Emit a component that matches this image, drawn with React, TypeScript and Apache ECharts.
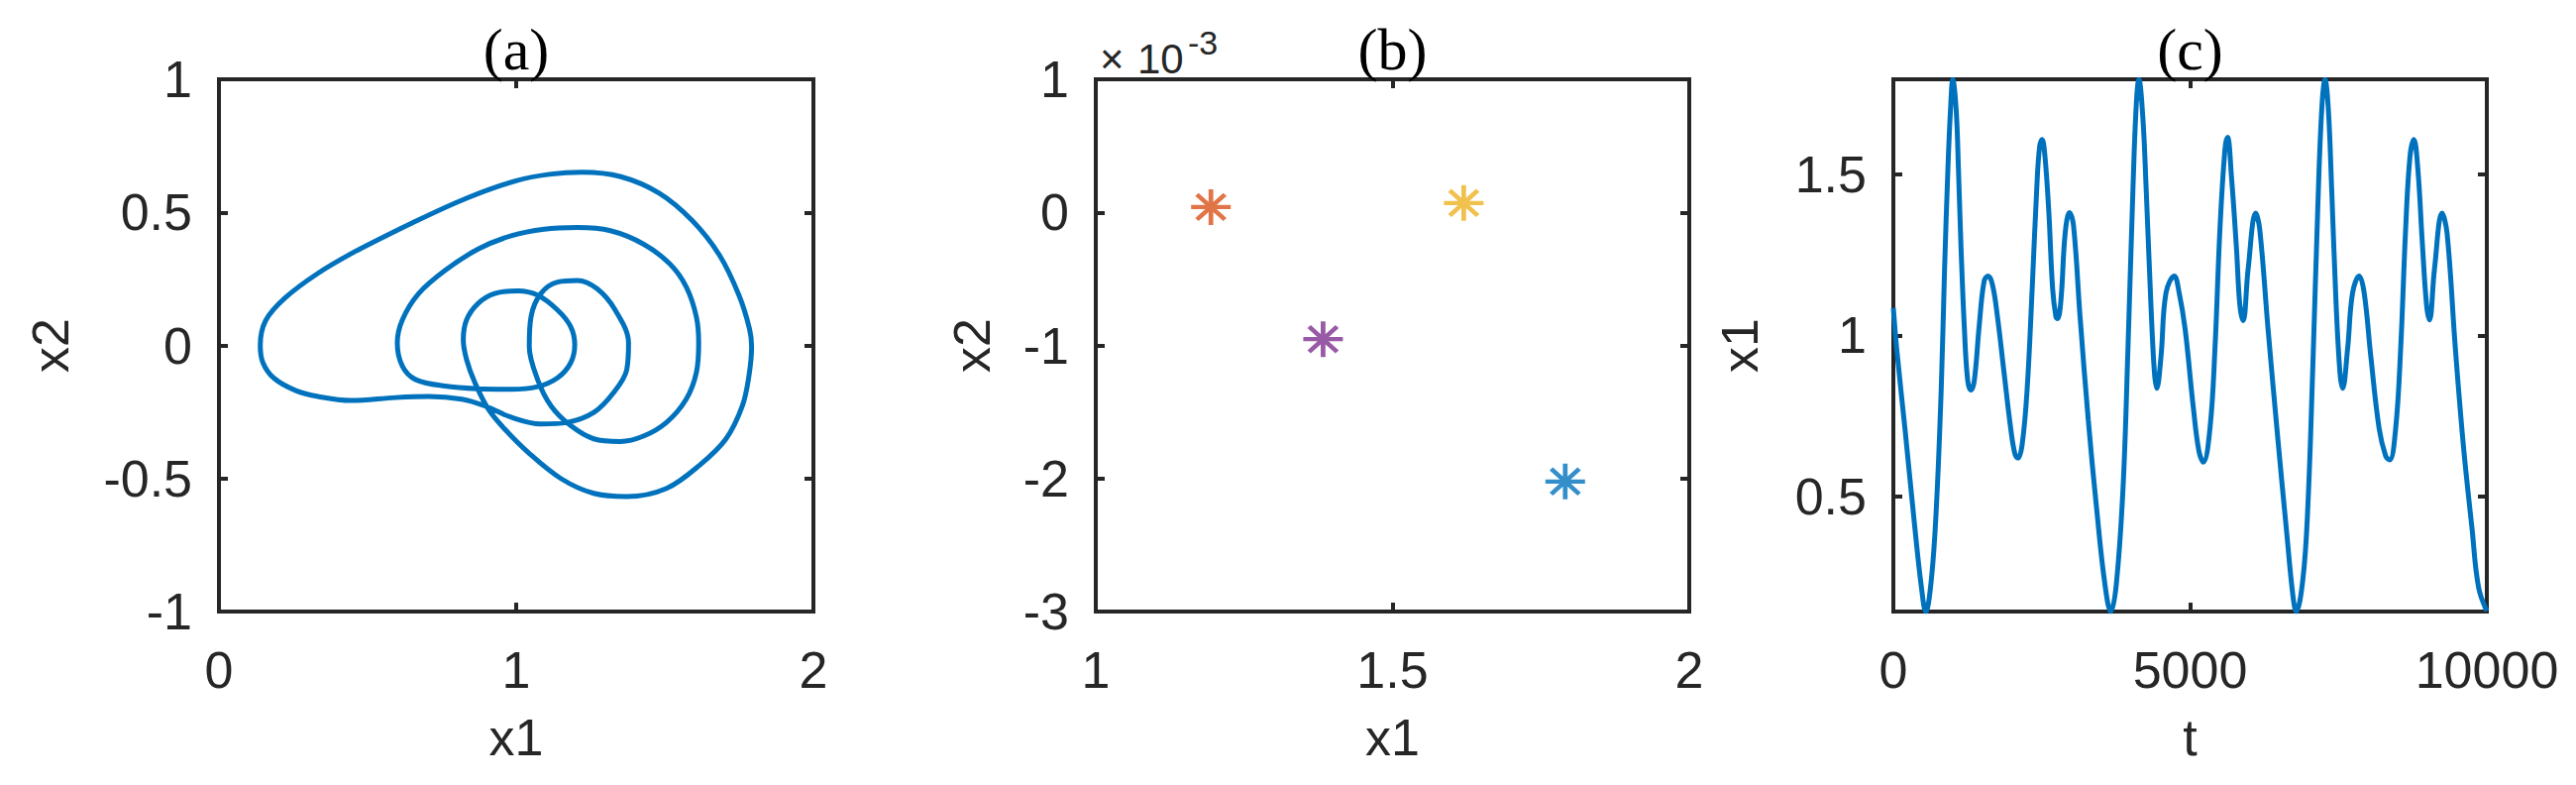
import React, { useEffect, useRef } from 'react';
import * as echarts from 'echarts';

// ---------- Panel (a): phase portrait x1 vs x2 (one closed orbit) ----------
const phaseX1 = [
  0.463, 0.648, 0.833, 1.0, 1.111, 1.222, 1.352, 1.481, 1.593, 1.685, 1.75, 1.785,
  1.792, 1.783, 1.761, 1.706, 1.617, 1.506, 1.372, 1.261, 1.15, 1.039, 0.961, 0.906, 0.861, 0.833, 0.822,
  0.833, 0.872, 0.928, 1.006, 1.072, 1.139, 1.183, 1.197, 1.183, 1.139, 1.072, 0.983, 0.872, 0.761, 0.661,
  0.617, 0.6, 0.617, 0.672, 0.761, 0.872, 0.983, 1.094, 1.206, 1.317, 1.428, 1.517, 1.572, 1.606, 1.614,
  1.606, 1.572, 1.506, 1.428, 1.35, 1.261, 1.183, 1.117, 1.072, 1.044, 1.05, 1.083, 1.139, 1.206, 1.272,
  1.333, 1.378, 1.372, 1.328, 1.261, 1.172, 1.083, 0.983, 0.894, 0.817, 0.706, 0.594, 0.444, 0.333, 0.259,
  0.185, 0.148, 0.139, 0.157, 0.222, 0.333, 0.463,
];
const phaseX2 = [
  0.356, 0.459, 0.553, 0.619, 0.643, 0.651, 0.634, 0.572, 0.468, 0.337, 0.187, 0.062,
  -0.004, -0.115, -0.227, -0.351, -0.45, -0.537, -0.568, -0.556, -0.5, -0.401, -0.314, -0.239, -0.14, -0.053, 0.021,
  0.096, 0.158, 0.195, 0.205, 0.189, 0.133, 0.071, 0.002, -0.066, -0.122, -0.155, -0.165, -0.163, -0.153, -0.128,
  -0.078, 0.009, 0.096, 0.195, 0.282, 0.362, 0.412, 0.437, 0.443, 0.431, 0.381, 0.306, 0.22, 0.108, 0.009,
  -0.103, -0.202, -0.289, -0.341, -0.361, -0.351, -0.301, -0.227, -0.128, -0.004, 0.108, 0.195, 0.238, 0.244, 0.213,
  0.133, 0.009, -0.091, -0.177, -0.252, -0.289, -0.295, -0.27, -0.227, -0.202, -0.192, -0.196, -0.207, -0.192, -0.17,
  -0.123, -0.065, 0.0, 0.093, 0.178, 0.271, 0.356,
];

// ---------- Panel (b): section points (x2 in units of 1e-3) ----------
const pointX1 = [1.194, 1.383, 1.62, 1.791];
const pointX2e3 = [0.04, -0.953, 0.07, -2.023];
const pointColors = ['#D95319', '#7E2F8E', '#EDB120', '#0072BD'];

// ---------- Panel (c): time series ----------
const timeT = [
  0, 56, 195, 362, 473, 546, 640, 724, 807, 863, 919, 963, 1002, 1058, 1097, 1141, 1197, 1253, 1308,
  1364, 1448, 1531, 1598, 1670, 1754, 1865, 1977, 2049, 2099, 2171, 2255, 2339, 2422, 2467, 2506,
  2550, 2617, 2684, 2739, 2767, 2823, 2895, 2968, 3035, 3146, 3285, 3424, 3563, 3664,
  3758, 3870, 3953, 4037, 4092, 4137, 4204, 4260, 4343, 4399, 4438, 4510, 4594, 4733, 4816,
  4916, 5056, 5150, 5223, 5335, 5419, 5503, 5587, 5631, 5698, 5782, 5838, 5894, 5978, 6106, 6173,
  6313, 6481, 6620, 6732, 6788, 6900, 6983, 7067, 7151, 7218, 7274, 7330, 7386, 7458, 7525, 7570,
  7654, 7738, 7849, 7933, 8045, 8185, 8296, 8363, 8464, 8548, 8632, 8704, 8771, 8838, 8911, 8984, 9034,
  9118, 9246, 9330, 9470, 9609, 9749, 9861, 10000,
];
const timeX1 = [
  1.085, 0.959, 0.712, 0.404, 0.219, 0.144, 0.243, 0.465, 0.836, 1.206, 1.515, 1.70, 1.793, 1.70, 1.515, 1.268, 1.021, 0.86, 0.83,
  0.86, 1.033, 1.17, 1.184, 1.157, 1.058, 0.885, 0.712, 0.632, 0.62, 0.663, 0.836, 1.144, 1.478, 1.589, 1.607,
  1.564, 1.391, 1.144, 1.058, 1.052, 1.107, 1.317, 1.381, 1.342, 1.058, 0.737, 0.465, 0.231, 0.144,
  0.231, 0.527, 0.959, 1.453, 1.712, 1.793, 1.675, 1.453, 1.083, 0.885, 0.836, 0.935, 1.132, 1.184, 1.132,
  1.02, 0.774, 0.64, 0.607, 0.712, 0.959, 1.33, 1.577, 1.614, 1.49, 1.268, 1.095, 1.046, 1.206, 1.379, 1.33,
  1.021, 0.675, 0.404, 0.194, 0.144, 0.243, 0.465, 0.898, 1.392, 1.70, 1.793, 1.70, 1.453, 1.107, 0.885, 0.836,
  0.959, 1.132, 1.184, 1.132, 0.935, 0.712, 0.626, 0.614, 0.712, 0.959, 1.33, 1.552, 1.607, 1.515, 1.293, 1.095, 1.048,
  1.206, 1.379, 1.317, 0.959, 0.65, 0.404, 0.219, 0.146,
];

const panelTitles = ['(a)', '(b)', '(c)'];
const xNames = ['x1', 'x1', 't'];
const yNames = ['x2', 'x2', 'x1'];
const cTickValues = [0.5, 1, 1.5];

const GRIDS = [
  { left: 221, top: 80, width: 600, height: 537 },
  { left: 1106, top: 80, width: 599, height: 537 },
  { left: 1911, top: 80, width: 599, height: 537 },
];
const Y_NAME_GAPS = [144, 99, 129];

const AXIS_COLOR = '#262626';
const SANS = '"Liberation Sans", Arial, Helvetica, sans-serif';
const SERIF = '"Liberation Serif", "Times New Roman", serif';
const LINE_BLUE = '#0072BD';

const ASTERISK =
  'path://M10 0 L10 20 M0 10 L20 10 M2.93 2.93 L17.07 17.07 M2.93 17.07 L17.07 2.93';

function App() {
  const ref = useRef<HTMLDivElement>(null);

  useEffect(() => {
    if (!ref.current) return;
    const chart = echarts.init(ref.current, undefined, { renderer: 'svg' });

    const ranges = [
      { xmin: 0, xmax: 2, xint: 1, ymin: -1, ymax: 1, yint: 0.5 },
      { xmin: 1, xmax: 2, xint: 0.5, ymin: -3, ymax: 1, yint: 1 },
      { xmin: 0, xmax: 10000, xint: 5000, ymin: 0.144, ymax: 1.794, yint: 0 },
    ];

    const tick = { show: true, inside: true, length: 9, lineStyle: { color: AXIS_COLOR, width: 4 } };
    const hiddenLine = { show: false, onZero: false };
    const labelStyle = { fontFamily: SANS, fontSize: 52, color: AXIS_COLOR };
    const nameStyle = { fontFamily: SANS, fontSize: 52, color: AXIS_COLOR };

    const xAxis: any[] = [];
    const yAxis: any[] = [];
    ranges.forEach((r, i) => {
      const isC = i === 2;
      xAxis.push(
        {
          type: 'value', gridIndex: i, position: 'bottom', min: r.xmin, max: r.xmax, interval: r.xint,
          axisLine: hiddenLine, splitLine: { show: false }, axisTick: tick,
          axisLabel: { ...labelStyle, margin: 33, formatter: (v: number) => String(v) },
          name: xNames[i], nameLocation: 'middle', nameGap: 101, nameTextStyle: nameStyle,
        },
        {
          type: 'value', gridIndex: i, position: 'top', min: r.xmin, max: r.xmax, interval: r.xint,
          axisLine: hiddenLine, splitLine: { show: false }, axisTick: tick, axisLabel: { show: false },
        },
      );
      const left: any = {
        type: 'value', gridIndex: i, position: 'left', min: r.ymin, max: r.ymax,
        axisLine: hiddenLine, splitLine: { show: false },
        axisTick: isC ? { ...tick, customValues: cTickValues } : tick,
        axisLabel: isC
          ? { ...labelStyle, margin: 27, customValues: cTickValues, formatter: (v: number) => String(v) }
          : { ...labelStyle, margin: 27, formatter: (v: number) => String(v) },
        name: yNames[i], nameLocation: 'middle', nameGap: Y_NAME_GAPS[i], nameRotate: 90, nameTextStyle: nameStyle,
      };
      const right: any = {
        type: 'value', gridIndex: i, position: 'right', min: r.ymin, max: r.ymax,
        axisLine: hiddenLine, splitLine: { show: false },
        axisTick: isC ? { ...tick, customValues: cTickValues } : tick,
        axisLabel: isC ? { show: false, customValues: cTickValues } : { show: false },
      };
      if (!isC) {
        left.interval = r.yint;
        right.interval = r.yint;
      }
      yAxis.push(left, right);
    });

    const option: any = {
      animation: false,
      backgroundColor: '#ffffff',
      grid: GRIDS.map((g) => ({
        ...g, show: true, borderColor: AXIS_COLOR, borderWidth: 4, backgroundColor: 'transparent',
      })),
      title: panelTitles.map((t, i) => ({
        text: t,
        left: GRIDS[i].left + GRIDS[i].width / 2,
        top: 20,
        textAlign: 'center',
        padding: 0,
        textStyle: { fontFamily: SERIF, fontSize: 60, fontWeight: 'normal', color: '#000000' },
      })),
      xAxis,
      yAxis,
      graphic: [
        { type: 'text', left: 1110, top: 38, style: { text: '×', fontFamily: SANS, fontSize: 42, fill: AXIS_COLOR } },
        { type: 'text', left: 1148, top: 38, style: { text: '10', fontFamily: SANS, fontSize: 42, fill: AXIS_COLOR } },
        { type: 'text', left: 1199, top: 26, style: { text: '-3', fontFamily: SANS, fontSize: 34, fill: AXIS_COLOR } },
      ],
      series: [
        {
          type: 'line', xAxisIndex: 0, yAxisIndex: 0,
          data: phaseX1.map((x, k) => [x, phaseX2[k]]),
          smooth: 0.35, showSymbol: false, symbol: 'none',
          lineStyle: { color: LINE_BLUE, width: 5 },
        },
        {
          type: 'scatter', xAxisIndex: 2, yAxisIndex: 2,
          symbol: ASTERISK, symbolSize: [40, 36],
          data: pointX1.map((x, k) => ({
            value: [x, pointX2e3[k]],
            itemStyle: { color: pointColors[k], borderColor: pointColors[k], borderWidth: 4.5 },
          })),
        },
        {
          type: 'line', xAxisIndex: 4, yAxisIndex: 4,
          data: timeT.map((t, k) => [t, timeX1[k]]),
          smooth: 0.4, showSymbol: false, symbol: 'none',
          lineStyle: { color: LINE_BLUE, width: 5 },
        },
      ],
    };

    chart.setOption(option);
    return () => chart.dispose();
  }, []);

  return (
    <div
      ref={ref}
      style={{ position: 'absolute', left: 0, top: 0, width: 2600, height: 792, background: '#ffffff' }}
    />
  );
}

export default App;
